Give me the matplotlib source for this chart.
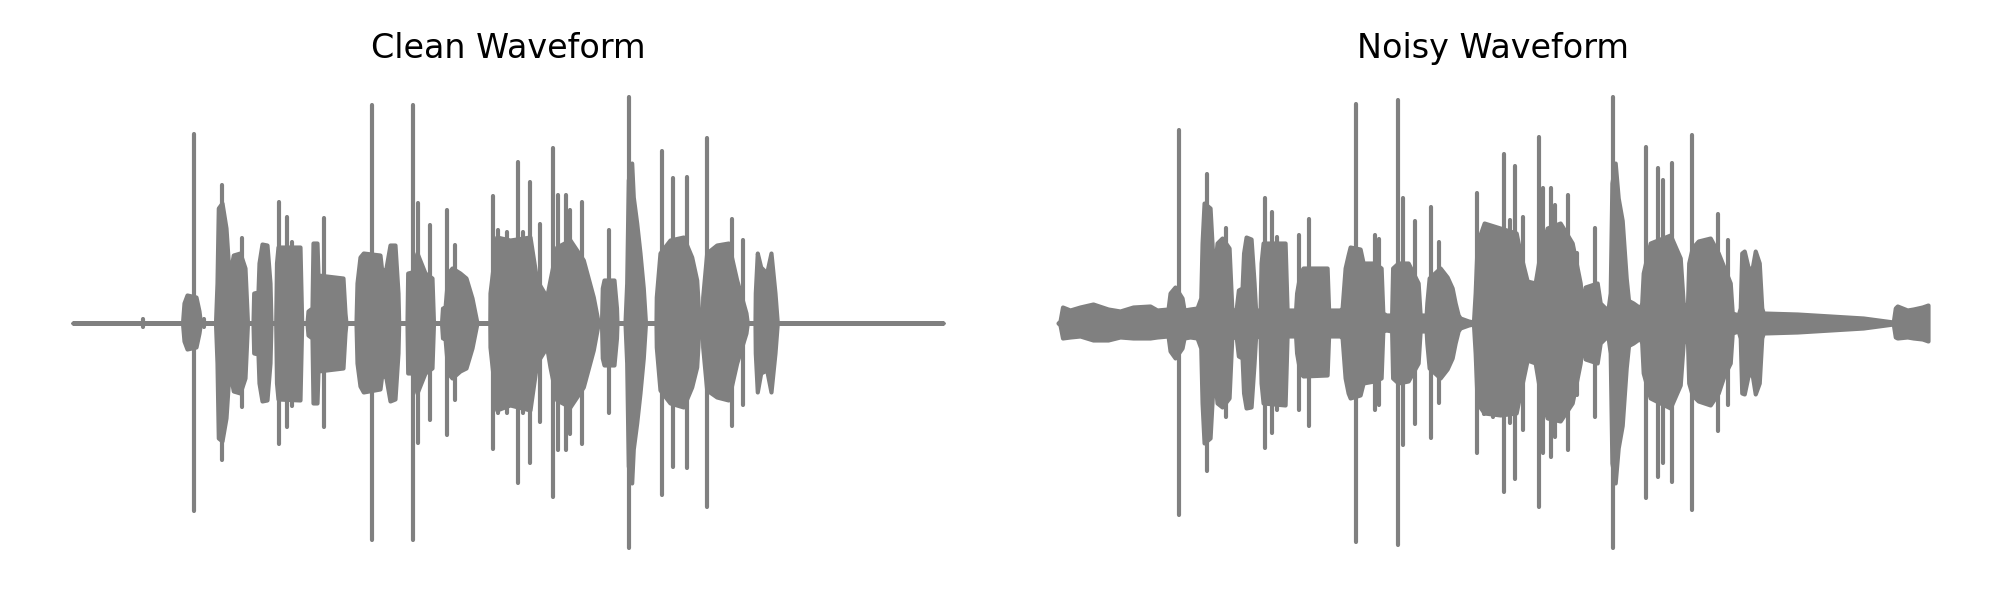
import numpy as np
import matplotlib
matplotlib.use("Agg")
import matplotlib.pyplot as plt

# envelope of the clean recording: time (s), upper and lower amplitude
clean_t = [0.00, 1.095, 1.11, 1.14, 1.23, 1.26, 1.275,
           1.425, 1.44, 1.453, 1.49, 1.53, 1.553, 1.57, 1.603, 1.67, 1.72, 1.745,
           1.80, 1.807, 1.85, 1.86, 1.89, 1.94, 1.97, 1.98,
           2.027, 2.035, 2.05, 2.27, 2.287,
           2.34, 2.35, 2.39, 2.40, 2.44, 2.45, 2.70, 2.72, 2.73,
           2.83, 2.84, 2.87, 2.903, 3.07, 3.09, 3.13, 3.17, 3.22, 3.25, 3.257,
           3.34, 3.347, 3.39, 3.44, 3.52, 3.59, 3.605,
           3.685, 3.695, 3.72, 3.75, 3.79, 3.87, 3.93, 3.99, 4.03, 4.04,
           4.168, 4.17, 4.237, 4.37, 4.57, 4.637, 4.737, 4.77, 4.837, 4.97, 5.103, 5.203, 5.253,
           5.285, 5.293, 5.31, 5.41, 5.435, 5.44,
           5.52, 5.537, 5.553, 5.587, 5.603, 5.637, 5.67, 5.703, 5.725,
           5.83, 5.833, 5.87, 5.97, 6.103, 6.187, 6.237, 6.263,
           6.293, 6.297, 6.337, 6.437, 6.553, 6.637, 6.73, 6.743,
           6.82, 6.823, 6.843, 6.877, 6.937, 6.98, 7.02, 7.043, 8.70]
clean_hi = [0, 0, 0.080, 0.112, 0.104, 0.048, 0,
            0, 0.16, 0.46, 0.48, 0.38, 0.24, 0.20, 0.272, 0.28, 0.22, 0,
            0, 0.12, 0.124, 0.24, 0.316, 0.312, 0.16, 0,
            0, 0.24, 0.304, 0.304, 0,
            0, 0.048, 0.06, 0.32, 0.32, 0.192, 0.18, 0.04, 0,
            0, 0.16, 0.264, 0.28, 0.272, 0.20, 0.22, 0.312, 0.312, 0.12, 0,
            0, 0.20, 0.204, 0.28, 0.20, 0.18, 0,
            0, 0.06, 0.06, 0.20, 0.22, 0.20, 0.18, 0.10, 0.02, 0,
            0, 0.12, 0.344, 0.332, 0.344, 0.172, 0.104, 0.172, 0.304, 0.332, 0.252, 0.104, 0,
            0, 0.14, 0.172, 0.172, 0.06, 0,
            0, 0.16, 0.572, 0.64, 0.504, 0.40, 0.28, 0.14, 0,
            0, 0.104, 0.28, 0.332, 0.344, 0.264, 0.172, 0,
            0, 0.104, 0.28, 0.312, 0.32, 0.172, 0.04, 0,
            0, 0.12, 0.28, 0.224, 0.20, 0.28, 0.12, 0, 0]
clean_lo = [0, 0, -0.072, -0.104, -0.096, -0.040, 0,
            0, -0.16, -0.46, -0.472, -0.38, -0.24, -0.20, -0.272, -0.28, -0.22, 0,
            0, -0.12, -0.124, -0.24, -0.312, -0.308, -0.16, 0,
            0, -0.24, -0.304, -0.308, 0,
            0, -0.048, -0.06, -0.32, -0.32, -0.192, -0.18, -0.04, 0,
            0, -0.16, -0.252, -0.276, -0.264, -0.20, -0.22, -0.312, -0.304, -0.12, 0,
            0, -0.20, -0.20, -0.28, -0.20, -0.18, 0,
            0, -0.06, -0.06, -0.20, -0.22, -0.192, -0.18, -0.10, -0.02, 0,
            0, -0.096, -0.348, -0.328, -0.348, -0.16, -0.096, -0.176, -0.308, -0.336, -0.256, -0.108, 0,
            0, -0.14, -0.168, -0.168, -0.06, 0,
            0, -0.16, -0.572, -0.64, -0.504, -0.40, -0.28, -0.14, 0,
            0, -0.096, -0.268, -0.32, -0.336, -0.256, -0.176, 0,
            0, -0.096, -0.268, -0.296, -0.308, -0.16, -0.04, 0,
            0, -0.12, -0.276, -0.20, -0.188, -0.276, -0.12, 0, 0]

# single-sample peaks of the clean recording
clean_peak_t = [0.697, 1.21, 1.31, 1.487, 1.687, 2.063, 2.143, 2.187, 2.51, 2.987,
                3.403, 3.45, 3.57, 3.737, 3.82, 4.203, 4.253, 4.337, 4.453, 4.503,
                4.57, 4.67, 4.803, 4.853, 4.93, 4.97, 5.087, 5.363, 5.563, 5.887,
                6.003, 6.137, 6.337, 6.593, 6.697]
clean_peak_hi = [0.016, 0.756, 0.016, 0.552, 0.34, 0.484, 0.424, 0.324, 0.42, 0.872,
                 0.872, 0.48, 0.392, 0.452, 0.312, 0.508, 0.372, 0.364, 0.644, 0.364,
                 0.564, 0.396, 0.70, 0.512, 0.512, 0.452, 0.484, 0.372, 0.904, 0.688,
                 0.58, 0.584, 0.74, 0.416, 0.332]
clean_peak_lo = [-0.016, -0.752, -0.016, -0.548, -0.336, -0.484, -0.416, -0.332, -0.416, -0.868,
                 -0.868, -0.48, -0.388, -0.448, -0.308, -0.504, -0.36, -0.36, -0.64, -0.36,
                 -0.56, -0.396, -0.696, -0.508, -0.508, -0.444, -0.484, -0.36, -0.90, -0.688,
                 -0.576, -0.58, -0.736, -0.412, -0.328]

# envelope of the noisy recording
noisy_t = [0.00, 0.02, 0.045, 0.12, 0.22, 0.35, 0.50, 0.62, 0.75, 0.92, 0.99, 1.10,
           1.12, 1.17, 1.24, 1.26, 1.32, 1.39,
           1.427, 1.44, 1.46, 1.52, 1.55, 1.57, 1.59, 1.64, 1.71, 1.737, 1.75, 1.78,
           1.803, 1.84, 1.855, 1.88, 1.93, 1.96, 1.975, 2.02,
           2.03, 2.05, 2.27, 2.29, 2.375,
           2.385, 2.42, 2.45, 2.69, 2.705, 2.82,
           2.84, 2.87, 2.90, 2.92, 3.02, 3.05, 3.16, 3.23, 3.247, 3.28, 3.335,
           3.345, 3.40, 3.50, 3.60, 3.62, 3.68,
           3.687, 3.71, 3.82, 3.89, 3.94, 3.97, 4.00, 4.02, 4.103, 4.153,
           4.17, 4.19, 4.26, 4.42, 4.58, 4.62, 4.69, 4.77, 4.82, 4.89, 5.02, 5.14, 5.22, 5.24,
           5.25, 5.27, 5.39, 5.42, 5.47, 5.50,
           5.52, 5.537, 5.57, 5.60, 5.64, 5.68, 5.703, 5.75, 5.82,
           5.835, 5.85, 5.92, 6.12, 6.22, 6.25, 6.28,
           6.293, 6.305, 6.34, 6.40, 6.52, 6.60, 6.66, 6.72, 6.74, 6.80,
           6.82, 6.835, 6.86, 6.90, 6.94, 6.97, 7.01, 7.035,
           7.05, 7.39, 7.72, 8.05, 8.20, 8.35,
           8.37, 8.39, 8.49, 8.55, 8.64, 8.697]
noisy_hi = [0, 0.008, 0.064, 0.052, 0.064, 0.076, 0.056, 0.048, 0.064, 0.068, 0.052, 0.056,
            0.12, 0.144, 0.10, 0.052, 0.056, 0.06,
            0.10, 0.32, 0.48, 0.46, 0.24, 0.24, 0.32, 0.34, 0.30, 0.06, 0.052, 0.052,
            0.132, 0.14, 0.28, 0.344, 0.336, 0.16, 0.052, 0.052,
            0.24, 0.32, 0.32, 0.052, 0.052,
            0.12, 0.20, 0.22, 0.22, 0.052, 0.052,
            0.06, 0.22, 0.272, 0.304, 0.296, 0.24, 0.24, 0.22, 0.04, 0.032, 0.032,
            0.22, 0.24, 0.24, 0.16, 0.032, 0.032,
            0.08, 0.18, 0.22, 0.184, 0.14, 0.08, 0.032, 0.02, 0.008, 0.004,
            0.12, 0.32, 0.40, 0.38, 0.36, 0.28, 0.168, 0.16, 0.28, 0.38, 0.40, 0.32, 0.16, 0.08,
            0.064, 0.144, 0.16, 0.08, 0.06, 0.06,
            0.12, 0.56, 0.64, 0.50, 0.41, 0.18, 0.09, 0.08, 0.06,
            0.08, 0.20, 0.32, 0.352, 0.26, 0.08, 0.064,
            0.08, 0.24, 0.30, 0.328, 0.34, 0.28, 0.22, 0.16, 0.04, 0.032,
            0.06, 0.28, 0.288, 0.22, 0.22, 0.288, 0.24, 0.06,
            0.04, 0.036, 0.028, 0.02, 0.012, 0.004,
            0.06, 0.068, 0.052, 0.056, 0.064, 0.072]
noisy_lo = [0, -0.008, -0.06, -0.056, -0.052, -0.068, -0.068, -0.056, -0.06, -0.06, -0.056, -0.052,
            -0.112, -0.14, -0.10, -0.06, -0.056, -0.06,
            -0.10, -0.32, -0.48, -0.46, -0.24, -0.24, -0.32, -0.336, -0.30, -0.06, -0.056, -0.052,
            -0.132, -0.14, -0.28, -0.34, -0.336, -0.16, -0.056, -0.052,
            -0.24, -0.32, -0.328, -0.052, -0.052,
            -0.12, -0.20, -0.212, -0.208, -0.052, -0.052,
            -0.06, -0.22, -0.28, -0.30, -0.288, -0.24, -0.232, -0.22, -0.032, -0.028, -0.032,
            -0.22, -0.24, -0.232, -0.16, -0.032, -0.032,
            -0.08, -0.18, -0.22, -0.184, -0.14, -0.08, -0.032, -0.02, -0.008, -0.004,
            -0.12, -0.32, -0.36, -0.368, -0.36, -0.28, -0.148, -0.16, -0.28, -0.38, -0.392, -0.32, -0.16, -0.08,
            -0.064, -0.144, -0.16, -0.08, -0.06, -0.06,
            -0.12, -0.56, -0.64, -0.50, -0.41, -0.18, -0.09, -0.08, -0.06,
            -0.08, -0.20, -0.30, -0.34, -0.248, -0.08, -0.064,
            -0.08, -0.24, -0.288, -0.312, -0.328, -0.28, -0.208, -0.16, -0.04, -0.032,
            -0.06, -0.28, -0.284, -0.208, -0.208, -0.284, -0.24, -0.06,
            -0.04, -0.036, -0.028, -0.02, -0.012, -0.004,
            -0.056, -0.06, -0.056, -0.06, -0.064, -0.072]

noisy_peak_t = [1.21, 1.487, 1.68, 2.067, 2.143, 2.187, 2.413, 2.51, 2.98, 3.17,
                3.213, 3.403, 3.453, 3.57, 3.73, 3.81, 4.193, 4.263, 4.347, 4.46,
                4.52, 4.57, 4.653, 4.81, 4.847, 4.927, 4.97, 5.103, 5.187, 5.37,
                5.553, 5.88, 5.997, 6.043, 6.137, 6.337, 6.593, 6.697]
noisy_peak_hi = [0.772, 0.596, 0.38, 0.50, 0.444, 0.344, 0.352, 0.416, 0.876, 0.352,
                 0.336, 0.892, 0.50, 0.408, 0.464, 0.324, 0.52, 0.384, 0.38, 0.676,
                 0.412, 0.628, 0.424, 0.744, 0.54, 0.54, 0.472, 0.512, 0.28, 0.38,
                 0.904, 0.704, 0.62, 0.572, 0.64, 0.752, 0.436, 0.332]
noisy_peak_lo = [-0.768, -0.592, -0.376, -0.50, -0.44, -0.348, -0.348, -0.412, -0.876, -0.348,
                 -0.328, -0.888, -0.488, -0.404, -0.46, -0.32, -0.52, -0.364, -0.376, -0.676,
                 -0.40, -0.624, -0.428, -0.736, -0.52, -0.536, -0.456, -0.508, -0.288, -0.376,
                 -0.90, -0.70, -0.616, -0.56, -0.636, -0.748, -0.432, -0.328]

titles = ["Clean Waveform", "Noisy Waveform"]
wave_color = "gray"

fig, axes = plt.subplots(1, 2, figsize=(10, 3), dpi=200)
fig.subplots_adjust(left=0.01475, right=0.98575, bottom=0.0492, top=0.8758, wspace=0.0293)

panels = [
    (clean_t, clean_hi, clean_lo, clean_peak_t, clean_peak_hi, clean_peak_lo),
    (noisy_t, noisy_hi, noisy_lo, noisy_peak_t, noisy_peak_hi, noisy_peak_lo),
]

for ax, title, (t, hi, lo, pt, phi, plo) in zip(axes, titles, panels):
    ax.fill_between(np.array(t), np.array(lo), np.array(hi), facecolor=wave_color,
                    edgecolor=wave_color, linewidth=1.5, joinstyle='round')
    ax.vlines(pt, plo, phi, color=wave_color, linewidth=1.5, capstyle='round')
    ax.set_title(title, fontsize=12)
    ax.axis('off')

fig.savefig("out.png", dpi=200)
